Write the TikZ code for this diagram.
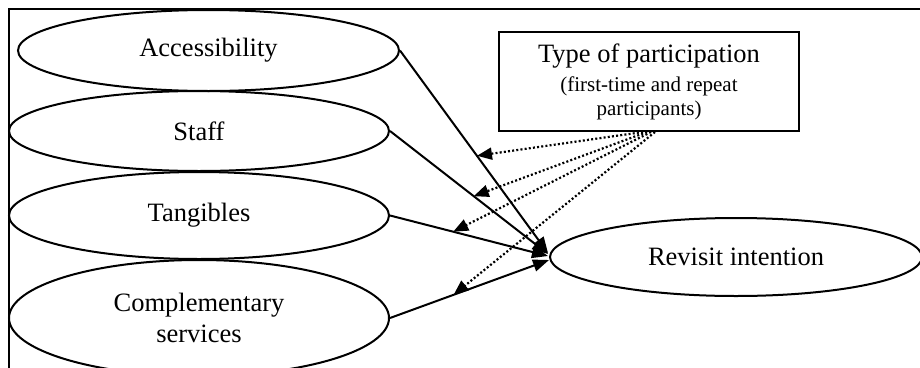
\documentclass[tikz,border=0pt]{standalone}
\usepackage{fontspec}
\setmainfont{Liberation Serif}
\usetikzlibrary{arrows.meta,shapes.geometric}
\begin{document}
\begin{tikzpicture}[x=1pt,y=-1pt,
  construct/.style={draw,ellipse,line width=2pt,inner sep=0pt,align=center,
    font=\fontsize{26.5}{31}\selectfont},
  typebox/.style={draw,rectangle,line width=2pt,inner sep=0pt,align=center,
    minimum width=300pt,minimum height=99pt,font=\fontsize{21}{24}\selectfont},
  path/.style={line width=2pt,-{Triangle[length=16pt,width=12pt]}},
  moder/.style={line width=2.2pt,dash pattern=on 2pt off 2.2pt,-{Triangle[length=15pt,width=12pt]}}]
\useasboundingbox (0,0) rectangle (920,367);
\draw[line width=2.2pt] (9,380) -- (9,9) -- (930,9);
\node[construct,minimum width=381pt,minimum height=81pt] (acc) at (208.5,50.5) {Accessibility};
\node[construct,minimum width=380pt,minimum height=80pt] (staff) at (199,131) {Staff};
\node[construct,minimum width=380pt,minimum height=87pt] (tang) at (199,215.5) {Tangibles};
\node[construct,minimum width=380pt,minimum height=116pt] (comp) at (199,318) {Complementary\\services};
\node[construct,minimum width=372pt,minimum height=78pt] (rev) at (736,257) {Revisit intention};
\node[typebox] (type) at (649,81.5) {\fontsize{26.5}{28}\selectfont Type of participation\\[5pt](first-time and repeat\\participants)};
\draw[path] (acc.east) -- ([shift={(-1,-4)}]rev.west) coordinate[pos=0.52] (m1);
\draw[path] (staff.east) -- ([shift={(-1,-3)}]rev.west) coordinate[pos=0.53] (m2);
\draw[path] (tang.east) -- ([shift={(-1,-1)}]rev.west) coordinate[pos=0.40] (m3);
\draw[path] (comp.east) -- ([shift={(0,3)}]rev.west) coordinate[pos=0.40] (m4);
\draw[moder] ([xshift=-6pt]type.south) -- (m1);
\draw[moder] ([xshift=-2pt]type.south) -- (m2);
\draw[moder] ([xshift=2pt]type.south) -- (m3);
\draw[moder] ([xshift=6pt]type.south) -- (m4);
\end{tikzpicture}
\end{document}
